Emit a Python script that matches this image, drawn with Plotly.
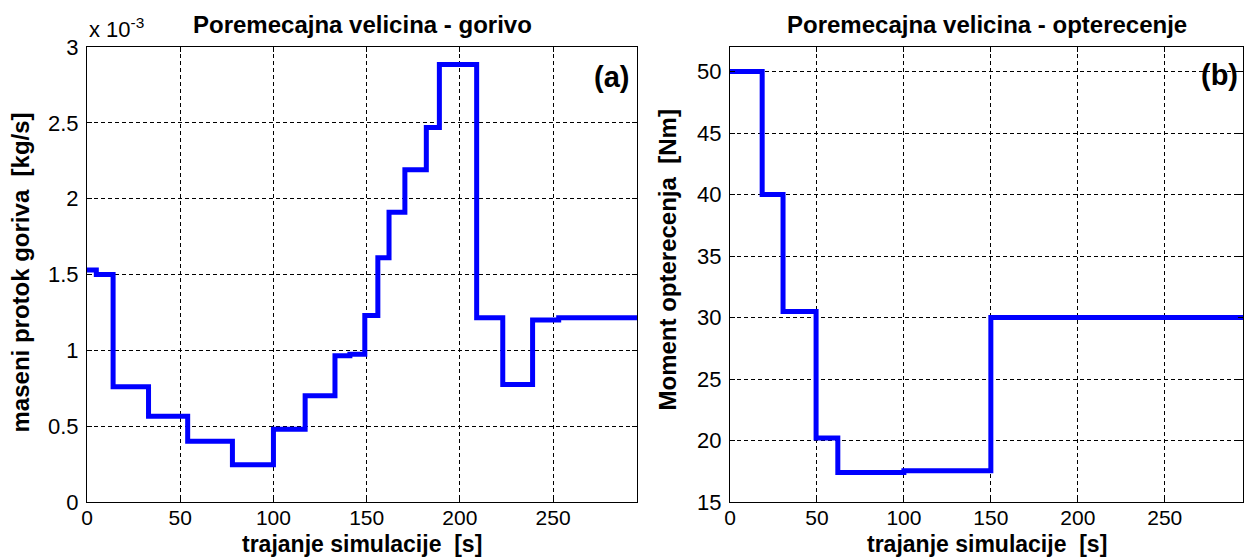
import plotly.graph_objects as go

# ---- data ----
# (a) fuel disturbance: step change times [s] and mass flow values [x 1e-3 kg/s]
t_fuel = [0, 5, 14, 33, 54, 78, 100, 117, 133, 141, 149, 156, 162, 170.5, 182, 189, 209, 223, 239, 253, 295]
fuel = [1.53, 1.50, 0.76, 0.565, 0.40, 0.245, 0.48, 0.70, 0.965, 0.975, 1.23, 1.61, 1.91, 2.19, 2.47, 2.885,
        1.215, 0.775, 1.20, 1.215, 1.215]

# (b) load disturbance: step change times [s] and load torque [Nm]
t_load = [0, 18.5, 30.5, 49.5, 62, 100, 150, 295]
load = [50, 40, 30.5, 20.2, 17.4, 17.55, 30, 30]

x_ticks = [0, 50, 100, 150, 200, 250]
y_ticks_a = [0, 0.5, 1, 1.5, 2, 2.5, 3]
y_ticks_b = [15, 20, 25, 30, 35, 40, 45, 50]

W, H = 1246, 557
L, R, T, B = 87, 3, 47, 55
pw = W - L - R
dom_a = [0, (637 - L) / pw]
dom_b = [(730 - L) / pw, 1]

FONT = "Liberation Sans, Arial, sans-serif"
BLUE = "rgb(0,0,255)"
TSIZE = 24

fig = go.Figure()
fig.add_trace(go.Scatter(x=t_fuel, y=fuel, mode="lines", line=dict(color=BLUE, width=5, shape="hv"),
                         xaxis="x", yaxis="y", showlegend=False, hoverinfo="skip"))
fig.add_trace(go.Scatter(x=t_load, y=load, mode="lines", line=dict(color=BLUE, width=5, shape="hv"),
                         xaxis="x2", yaxis="y2", showlegend=False, hoverinfo="skip"))

ax_common = dict(showline=True, linecolor="black", linewidth=1, mirror="ticks",
                 ticks="inside", ticklen=5, tickcolor="black",
                 showgrid=True, gridcolor="black", gridwidth=1, griddash="4px,3px",
                 zeroline=False)
tf_y = dict(family=FONT, size=22, color="black")
tf_x = dict(family=FONT, size=21, color="black")

fig.update_layout(
    width=W, height=H, autosize=False,
    margin=dict(l=L, r=R, t=T, b=B, autoexpand=False),
    paper_bgcolor="white", plot_bgcolor="white",
    xaxis=dict(domain=dom_a, range=[0, 295], tickvals=x_ticks, anchor="y", tickfont=tf_x,
               ticklabelstandoff=-3, **ax_common),
    yaxis=dict(domain=[0, 1], range=[0, 3], tickvals=y_ticks_a, ticktext=[str(v) for v in y_ticks_a],
               anchor="x", ticklabelstandoff=3, tickfont=tf_y, **ax_common),
    xaxis2=dict(domain=dom_b, range=[0, 295], tickvals=x_ticks, anchor="y2", tickfont=tf_x,
                ticklabelstandoff=-3, **ax_common),
    yaxis2=dict(domain=[0, 1], range=[15, 52], tickvals=y_ticks_b, anchor="x2", ticklabelstandoff=3,
                tickfont=tf_y, **ax_common),
)

def ann(text, x, y, xs=0, ys=0, xa="center", ya="middle", size=TSIZE, angle=0):
    fig.add_annotation(text=text, xref="paper", yref="paper", x=x, y=y, xshift=xs, yshift=ys,
                       xanchor=xa, yanchor=ya, showarrow=False, textangle=angle,
                       font=dict(family=FONT, size=size, color="black"))

ca = (dom_a[0] + dom_a[1]) / 2
cb = (dom_b[0] + dom_b[1]) / 2
# titles
ann("<b>Poremecajna velicina - gorivo</b>", ca, 1, ys=23)
ann("<b>Poremecajna velicina - opterecenje</b>", cb, 1, ys=23)
# x-axis titles
ann("<b>trajanje simulacije  [s]</b>", ca, 0, ys=-42, size=23)
ann("<b>trajanje simulacije  [s]</b>", cb, 0, ys=-42, size=23)
# y-axis titles
ann("<b>maseni protok goriva  [kg/s]</b>", 0, 0.5, xs=20 - L, ys=274 - 272, angle=-90)
ann("<b>Moment opterecenja  [Nm]</b>", dom_b[0], 0.5, xs=667 - 730, ys=274 - 260, angle=-90)
# exponent
ann("x 10<sup>-3</sup>", 0, 1, ys=3, xa="left", ya="bottom", size=22)
# panel labels
ann("<b>(a)</b>", dom_a[1], 1, xs=-6, ys=-30, xa="right", size=29)
ann("<b>(b)</b>", dom_b[1], 1, xs=-3, ys=-28, xa="right", size=29)

fig.write_html("out.html", config={"displayModeBar": False},
               post_script="document.body.style.margin='0';")
